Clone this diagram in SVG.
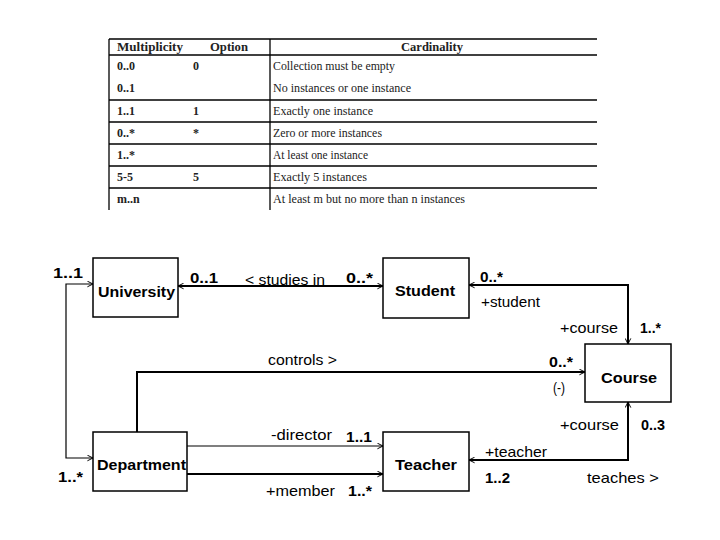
<svg xmlns="http://www.w3.org/2000/svg" width="720" height="540" viewBox="0 0 720 540">
<style>
.tl{stroke:#000;stroke-width:1.3;fill:none}
.th{font-family:"Liberation Serif",serif;font-size:13px;font-weight:bold;fill:#222}
.tm{font-family:"Liberation Serif",serif;font-size:12px;font-weight:bold;fill:#222}
.tc{font-family:"Liberation Serif",serif;font-size:12px;fill:#222}
.box{fill:#fff;stroke:#000;stroke-width:1.5}
.name{font-family:"Liberation Sans",Arial,sans-serif;font-size:15px;font-weight:bold;fill:#000}
.lb{font-family:"Liberation Sans",Arial,sans-serif;font-size:15px;fill:#000}
.lbb{font-family:"Liberation Sans",Arial,sans-serif;font-size:15px;font-weight:bold;fill:#000}
.c1{stroke:#000;stroke-width:1.2;fill:none}
.c2{stroke:#000;stroke-width:2;fill:none}
</style>
<defs>
<marker id="ar" viewBox="0 0 10 10" refX="9" refY="5" markerWidth="7" markerHeight="7" markerUnits="userSpaceOnUse" orient="auto-start-reverse">
<path d="M1,1 L9,5 L1,9" fill="none" stroke="#000" stroke-width="1.4"/>
</marker>
</defs>
<g id="table">
<line class="tl" x1="109" y1="39" x2="597" y2="39"/>
<line class="tl" x1="109" y1="55" x2="597" y2="55"/>
<line class="tl" x1="109" y1="100" x2="597" y2="100"/>
<line class="tl" x1="109" y1="122" x2="597" y2="122"/>
<line class="tl" x1="109" y1="144" x2="597" y2="144"/>
<line class="tl" x1="109" y1="166" x2="597" y2="166"/>
<line class="tl" x1="109" y1="188" x2="597" y2="188"/>
<line class="tl" x1="109" y1="39" x2="109" y2="210"/>
<line class="tl" x1="270" y1="39" x2="270" y2="210"/>
<text class="th" x="117" y="51" textLength="66" lengthAdjust="spacingAndGlyphs">Multiplicity</text>
<text class="th" x="210" y="51" textLength="38" lengthAdjust="spacingAndGlyphs">Option</text>
<text class="th" x="401" y="51" textLength="62" lengthAdjust="spacingAndGlyphs">Cardinality</text>
<text class="tm" x="117" y="70">0..0</text><text class="tm" x="193" y="70">0</text><text class="tc" x="273" y="70" textLength="122" lengthAdjust="spacingAndGlyphs">Collection must be empty</text>
<text class="tm" x="117" y="92">0..1</text><text class="tc" x="273" y="92" textLength="138" lengthAdjust="spacingAndGlyphs">No instances or one instance</text>
<text class="tm" x="117" y="115">1..1</text><text class="tm" x="193" y="115">1</text><text class="tc" x="273" y="115" textLength="100" lengthAdjust="spacingAndGlyphs">Exactly one instance</text>
<text class="tm" x="117" y="137">0..*</text><text class="tm" x="193" y="137">*</text><text class="tc" x="273" y="137" textLength="109" lengthAdjust="spacingAndGlyphs">Zero or more instances</text>
<text class="tm" x="117" y="159">1..*</text><text class="tc" x="273" y="159" textLength="95" lengthAdjust="spacingAndGlyphs">At least one instance</text>
<text class="tm" x="117" y="181">5-5</text><text class="tm" x="193" y="181">5</text><text class="tc" x="273" y="181" textLength="94" lengthAdjust="spacingAndGlyphs">Exactly 5 instances</text>
<text class="tm" x="117" y="203">m..n</text><text class="tc" x="273" y="203" textLength="192" lengthAdjust="spacingAndGlyphs">At least m but no more than n instances</text>
</g>
<g id="connectors">
<line class="c2" x1="178" y1="286" x2="383" y2="286" marker-start="url(#ar)" marker-end="url(#ar)"/>
<polyline class="c1" points="93,284 66,284 66,458 93,458" marker-start="url(#ar)" marker-end="url(#ar)"/>
<polyline class="c2" points="469,285 628,285 628,344" marker-start="url(#ar)" marker-end="url(#ar)"/>
<polyline class="c2" points="137,432 137,372 585,372" marker-end="url(#ar)"/>
<line class="c1" x1="187" y1="446" x2="383" y2="446" marker-end="url(#ar)"/>
<line class="c2" x1="187" y1="474" x2="383" y2="474" marker-end="url(#ar)"/>
<polyline class="c2" points="469,460 628,460 628,402" marker-start="url(#ar)" marker-end="url(#ar)"/>
<text class="lbb" x="53" y="278" textLength="30" lengthAdjust="spacingAndGlyphs">1..1</text>
<text class="lbb" x="58" y="482" textLength="25" lengthAdjust="spacingAndGlyphs">1..*</text>
<text class="lbb" x="190" y="283" textLength="28" lengthAdjust="spacingAndGlyphs">0..1</text>
<text class="lb" x="245" y="285" textLength="80" lengthAdjust="spacingAndGlyphs">&lt; studies in</text>
<text class="lbb" x="346" y="283" textLength="27" lengthAdjust="spacingAndGlyphs">0..*</text>
<text class="lbb" x="480" y="282" textLength="23" lengthAdjust="spacingAndGlyphs">0..*</text>
<text class="lb" x="481" y="307" textLength="59" lengthAdjust="spacingAndGlyphs">+student</text>
<text class="lb" x="560" y="333" textLength="58" lengthAdjust="spacingAndGlyphs">+course</text>
<text class="lbb" x="640" y="333" textLength="21" lengthAdjust="spacingAndGlyphs">1..*</text>
<text class="lb" x="268" y="365" textLength="69" lengthAdjust="spacingAndGlyphs">controls &gt;</text>
<text class="lbb" x="549" y="367" textLength="24" lengthAdjust="spacingAndGlyphs">0..*</text>
<text class="lb" x="553" y="393" textLength="12" lengthAdjust="spacingAndGlyphs">(-)</text>
<text class="lb" x="560" y="430" textLength="59" lengthAdjust="spacingAndGlyphs">+course</text>
<text class="lbb" x="641" y="430" textLength="24" lengthAdjust="spacingAndGlyphs">0..3</text>
<text class="lb" x="271" y="440" textLength="61" lengthAdjust="spacingAndGlyphs">-director</text>
<text class="lbb" x="346" y="442" textLength="26" lengthAdjust="spacingAndGlyphs">1..1</text>
<text class="lb" x="485" y="457" textLength="62" lengthAdjust="spacingAndGlyphs">+teacher</text>
<text class="lbb" x="485" y="483" textLength="25" lengthAdjust="spacingAndGlyphs">1..2</text>
<text class="lb" x="587" y="483" textLength="72" lengthAdjust="spacingAndGlyphs">teaches &gt;</text>
<text class="lb" x="266" y="496" textLength="69" lengthAdjust="spacingAndGlyphs">+member</text>
<text class="lbb" x="348" y="496" textLength="24" lengthAdjust="spacingAndGlyphs">1..*</text>
</g>
<g id="University"><rect class="box" x="93" y="258" width="85" height="59"/><text class="name" x="98" y="297" textLength="77" lengthAdjust="spacingAndGlyphs">University</text></g>
<g id="Student"><rect class="box" x="383" y="258" width="86" height="60"/><text class="name" x="395" y="296" textLength="60" lengthAdjust="spacingAndGlyphs">Student</text></g>
<g id="Course"><rect class="box" x="585" y="344" width="86" height="58"/><text class="name" x="601" y="383" textLength="56" lengthAdjust="spacingAndGlyphs">Course</text></g>
<g id="Department"><rect class="box" x="93" y="432" width="94" height="59"/><text class="name" x="97" y="470" textLength="89" lengthAdjust="spacingAndGlyphs">Department</text></g>
<g id="Teacher"><rect class="box" x="383" y="432" width="86" height="59"/><text class="name" x="395" y="470" textLength="62" lengthAdjust="spacingAndGlyphs">Teacher</text></g>
</svg>
